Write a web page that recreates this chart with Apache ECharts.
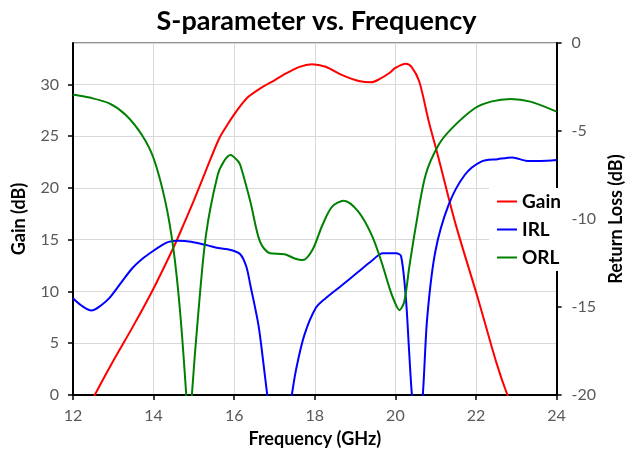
<!DOCTYPE html>
<html><head><meta charset="utf-8">
<script src="https://cdn.jsdelivr.net/npm/echarts@6/dist/echarts.min.js"></script>
<style>html,body{margin:0;padding:0;background:#fff}#c{width:633px;height:454px}</style>
</head><body><div id="c"></div>
<script>
var xTicks = [12, 14, 16, 18, 20, 22, 24];
var gainFreq = [12.4, 12.54, 13.0, 13.5, 13.96, 14.5, 14.77, 15.0, 15.3, 15.63, 15.83, 16.0, 16.15, 16.35, 16.64, 17.0, 17.21, 17.62, 17.93, 18.27, 18.68, 19.12, 19.4, 19.6, 19.85, 20.0, 20.26, 20.4, 20.59, 20.83, 21.07, 21.48, 22.05, 22.5, 22.78, 23.0];
var gainVals = [-1.1, 0, 3.3, 6.7, 10.0, 14.3, 16.7, 18.8, 21.7, 24.8, 26.1, 27.1, 27.9, 28.8, 29.6, 30.4, 30.9, 31.7, 31.95, 31.7, 30.9, 30.3, 30.2, 30.5, 31.1, 31.6, 32.0, 31.7, 30.3, 26.4, 22.9, 16.7, 9.3, 3.2, 0, -1.9];
var irlFreq = [12.0, 12.2, 12.46, 12.7, 12.9, 13.2, 13.47, 13.7, 13.96, 14.2, 14.37, 14.61, 14.93, 15.34, 15.6, 15.91, 16.15, 16.3, 16.4, 16.6, 16.72, 16.82, 17.1, 17.43, 17.54, 17.74, 18.02, 18.27, 18.68, 19.08, 19.4, 19.69, 20.02, 20.14, 20.26, 20.34, 20.41, 20.55, 20.68, 20.79, 20.99, 21.32, 21.72, 22.13, 22.54, 22.9, 23.27, 23.6, 24.0];
var irlVals = [-14.5, -14.9, -15.2, -14.9, -14.5, -13.6, -12.8, -12.3, -11.86, -11.5, -11.3, -11.23, -11.29, -11.5, -11.65, -11.76, -12.0, -12.7, -13.75, -16.0, -18.1, -20.0, -25.0, -20.0, -18.5, -16.6, -15.07, -14.5, -13.75, -13.0, -12.4, -11.95, -11.95, -12.1, -14.5, -17.5, -20.0, -23.0, -20.0, -15.6, -11.86, -9.2, -7.5, -6.74, -6.6, -6.5, -6.7, -6.7, -6.65];
var orlFreq = [12.0, 12.41, 12.9, 13.31, 13.71, 14.0, 14.29, 14.49, 14.65, 14.81, 14.88, 14.95, 15.1, 15.3, 15.59, 15.75, 15.91, 16.07, 16.15, 16.4, 16.64, 16.89, 17.25, 17.5, 17.7, 17.94, 18.19, 18.43, 18.72, 19.08, 19.41, 19.65, 19.85, 19.98, 20.1, 20.22, 20.34, 20.5, 20.75, 21.07, 21.4, 21.97, 22.37, 22.86, 23.35, 24.0];
var orlVals = [-2.92, -3.1, -3.43, -4.09, -5.23, -6.55, -9.0, -11.67, -15.07, -20.0, -23.0, -20.0, -15.6, -10.9, -7.5, -6.7, -6.36, -6.65, -6.93, -9.0, -11.29, -11.95, -12.0, -12.24, -12.33, -11.76, -10.34, -9.3, -8.96, -9.58, -10.9, -12.4, -13.9, -14.7, -15.17, -14.7, -12.8, -10.5, -7.5, -5.8, -4.85, -3.71, -3.33, -3.18, -3.33, -3.9];

function zip(a, b) { return a.map(function (v, i) { return [v, b[i]]; }); }

var FONT = 'Lato';
var chart = echarts.init(document.getElementById('c'), null, { renderer: 'canvas' });
chart.setOption({
  animation: false,
  backgroundColor: '#ffffff',
  title: {
    text: 'S-parameter vs. Frequency', left: 'center', top: 3,
    textStyle: { fontFamily: FONT, fontWeight: 'bold', fontSize: 27, color: '#000' }
  },
  grid: { left: 73, right: 68, top: 43, bottom: 59, show: true, borderColor: '#222', borderWidth: 1, backgroundColor: 'transparent' },
  legend: {
    orient: 'vertical', left: 489, top: 188, itemGap: 9, itemWidth: 20, itemHeight: 2,
    backgroundColor: '#ffffff', padding: [4, 4, 4, 8],
    textStyle: { fontFamily: FONT, fontWeight: 'bold', fontSize: 19, color: '#000' },
    data: [
      { name: 'Gain', icon: 'rect' },
      { name: 'IRL', icon: 'rect' },
      { name: 'ORL', icon: 'rect' }
    ]
  },
  xAxis: {
    type: 'value', min: xTicks[0], max: xTicks[xTicks.length - 1], interval: 2,
    name: 'Frequency (GHz)', nameLocation: 'middle', nameGap: 35,
    nameTextStyle: { fontFamily: FONT, fontWeight: 'bold', fontSize: 18, color: '#000' },
    axisLine: { show: true, onZero: false, lineStyle: { color: '#000', width: 2 } },
    axisTick: { show: true, length: 5, lineStyle: { color: '#000', width: 1.5 } },
    axisLabel: { fontFamily: FONT, fontSize: 16, color: '#595959', margin: 13 },
    splitLine: { show: true, lineStyle: { color: '#d9d9d9', width: 1 } }
  },
  yAxis: [
    {
      type: 'value', min: 0, max: 34, interval: 5, position: 'left',
      name: 'Gain (dB)', nameLocation: 'middle', nameGap: 45, nameRotate: 90,
      nameTextStyle: { fontFamily: FONT, fontWeight: 'bold', fontSize: 18, color: '#000' },
      axisLine: { show: true, lineStyle: { color: '#000', width: 2 } },
      axisTick: { show: true, length: 5, lineStyle: { color: '#000', width: 1.5 } },
      axisLabel: { fontFamily: FONT, fontSize: 16, color: '#595959', margin: 14, showMaxLabel: false },
      splitLine: { show: true, lineStyle: { color: '#d9d9d9', width: 1 } }
    },
    {
      type: 'value', min: -20, max: 0, interval: 5, position: 'right',
      name: 'Return Loss (dB)', nameLocation: 'middle', nameGap: 50, nameRotate: 90,
      nameTextStyle: { fontFamily: FONT, fontWeight: 'bold', fontSize: 18, color: '#000' },
      axisLine: { show: true, lineStyle: { color: '#000', width: 2 } },
      axisTick: { show: true, length: 5, lineStyle: { color: '#000', width: 1.5 } },
      axisLabel: { fontFamily: FONT, fontSize: 16, color: '#595959', margin: 15 },
      splitLine: { show: false }
    }
  ],
  series: [
    { name: 'Gain', type: 'line', yAxisIndex: 0, data: zip(gainFreq, gainVals), symbol: 'none', smooth: 0.3, clip: true, color: '#ff0000', lineStyle: { color: '#ff0000', width: 2 } },
    { name: 'IRL', type: 'line', yAxisIndex: 1, data: zip(irlFreq, irlVals), symbol: 'none', smooth: 0.3, clip: true, color: '#0000ff', lineStyle: { color: '#0000ff', width: 2 } },
    { name: 'ORL', type: 'line', yAxisIndex: 1, data: zip(orlFreq, orlVals), symbol: 'none', smooth: 0.3, clip: true, color: '#008000', lineStyle: { color: '#008000', width: 2 } }
  ]
});
</script></body></html>
